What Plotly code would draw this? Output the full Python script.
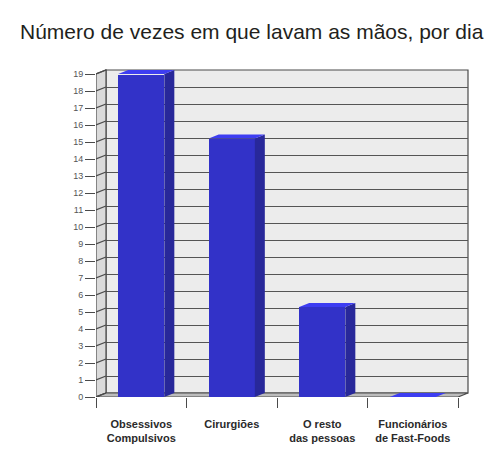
import plotly.graph_objects as go

# ---- data ----
categories = ["Obsessivos<br>Compulsivos", "Cirurgiões", "O resto<br>das pessoas", "Funcionários<br>de Fast-Foods"]
values = [19, 15.2, 5.3, 0]
y_ticks = list(range(0, 20))
title_text = "Número de vezes em que lavam as mãos, por dia"

# ---- geometry (pixels) ----
W, H = 500, 468
FX0 = 96            # front x of category -0.5
CAT_PX = 90.5       # pixels per category
Y0 = 397            # front y pixel of value 0
UPX = 17.0          # pixels per unit
DXPX, DYPX = 10, 4  # depth offset
BAR_W = 0.51

DX = DXPX / CAT_PX
DY = DYPX / UPX

def px_x(p):
    return p / W

def px_y(p):
    return (H - p) / H

XMAX2 = 3.65
YMAX2 = 19.5
front_xdom = [px_x(FX0), px_x(FX0 + (XMAX2 + 0.5) * CAT_PX)]
front_ydom = [px_y(Y0), px_y(Y0 - YMAX2 * UPX)]
back_xdom = [px_x(FX0 + DXPX), px_x(FX0 + DXPX + 4 * CAT_PX)]
back_ydom = [px_y(Y0 - DYPX), px_y(Y0 - DYPX - 19 * UPX)]

xs = list(range(len(categories)))

FRONT = "#3232c8"
SIDE = "#28289a"
TOP = "#3d3df2"
EDGE = "#4a4a4a"

fig = go.Figure()

# invisible trace to create the back subplot
fig.add_trace(go.Scatter(x=[0], y=[0], xaxis="x", yaxis="y", mode="markers",
                         marker=dict(opacity=0), hoverinfo="skip", showlegend=False))

# diagonal tick connectors on the side wall
cx, cy = [], []
for v in y_ticks:
    cx += [-0.5, -0.5 + DX, None]
    cy += [v, v + DY, None]
fig.add_trace(go.Scatter(x=cx, y=cy, xaxis="x2", yaxis="y2", mode="lines",
                         line=dict(color=EDGE, width=1.2), hoverinfo="skip", showlegend=False))

# front faces
fig.add_trace(go.Bar(x=xs, y=values, xaxis="x2", yaxis="y2", width=BAR_W,
                     marker=dict(color=FRONT, line=dict(width=0)), showlegend=False))

# side and top faces
for c, v in zip(xs, values):
    r = c + BAR_W / 2
    l = c - BAR_W / 2
    fig.add_trace(go.Scatter(x=[r, r + DX, r + DX, r, r], y=[0, DY, v + DY, v, 0],
                             xaxis="x2", yaxis="y2", mode="lines", fill="toself",
                             fillcolor=SIDE, line=dict(width=0, color=SIDE),
                             hoverinfo="skip", showlegend=False))
    fig.add_trace(go.Scatter(x=[l, r, r + DX, l + DX, l], y=[v, v, v + DY, v + DY, v],
                             xaxis="x2", yaxis="y2", mode="lines", fill="toself",
                             fillcolor=TOP, line=dict(width=0, color=TOP),
                             hoverinfo="skip", showlegend=False))

shapes = [
    # back wall
    dict(type="rect", xref="x domain", yref="y domain", x0=0, x1=1, y0=0, y1=1,
         fillcolor="#ececec", line=dict(color=EDGE, width=1.2), layer="below"),
    # left side wall
    dict(type="path", xref="x2", yref="y2",
         path=f"M -0.5 0 L {-0.5 + DX} {DY} L {-0.5 + DX} {19 + DY} L -0.5 19 Z",
         fillcolor="#dadada", line=dict(color=EDGE, width=1.2), layer="below"),
    # floor
    dict(type="path", xref="x2", yref="y2",
         path=f"M -0.5 0 L 3.5 0 L {3.5 + DX} {DY} L {-0.5 + DX} {DY} Z",
         fillcolor="#bcbcbc", line=dict(color=EDGE, width=1.2), layer="below"),
]

fig.update_layout(
    width=W, height=H,
    margin=dict(l=0, r=0, t=0, b=0, autoexpand=False),
    paper_bgcolor="white",
    plot_bgcolor="rgba(0,0,0,0)",
    showlegend=False,
    bargap=0,
    shapes=shapes,
    xaxis=dict(domain=back_xdom, range=[-0.5, 3.5], visible=False, fixedrange=True,
               automargin=False),
    yaxis=dict(domain=back_ydom, range=[0, 19], showgrid=True, gridcolor="#555555",
               gridwidth=1.3, tickvals=y_ticks, showticklabels=False, ticks="",
               zeroline=False, showline=False, automargin=False),
    xaxis2=dict(domain=front_xdom, range=[-0.5, XMAX2], anchor="y2", automargin=False,
                tickvals=xs, ticktext=[f"<b>{c}</b>" for c in categories],
                ticks="", showgrid=False, zeroline=False, showline=False,
                tickfont=dict(family="Liberation Sans, Arial, sans-serif", size=11, color="#2a2a2a"),
                ticklabelstandoff=19,
                minor=dict(tickvals=[-0.5, 0.5, 1.5, 2.5, 3.5], ticks="outside",
                           ticklen=10, tickcolor=EDGE, tickwidth=1.2, showgrid=False)),
    yaxis2=dict(domain=front_ydom, range=[0, YMAX2], anchor="x2", automargin=False,
                tickvals=y_ticks, ticks="outside", ticklen=10, tickcolor=EDGE, tickwidth=1.2,
                showgrid=False, zeroline=False, showline=False,
                tickfont=dict(family="Liberation Sans, Arial, sans-serif", size=9, color="#555555")),
    annotations=[dict(text=title_text, xref="paper", yref="paper", x=251.5 / W, y=px_y(32),
                      xanchor="center", yanchor="middle", showarrow=False,
                      font=dict(family="Liberation Sans, Arial, sans-serif", size=21, color="#231f1c"))],
)

fig.write_html("out.html")
